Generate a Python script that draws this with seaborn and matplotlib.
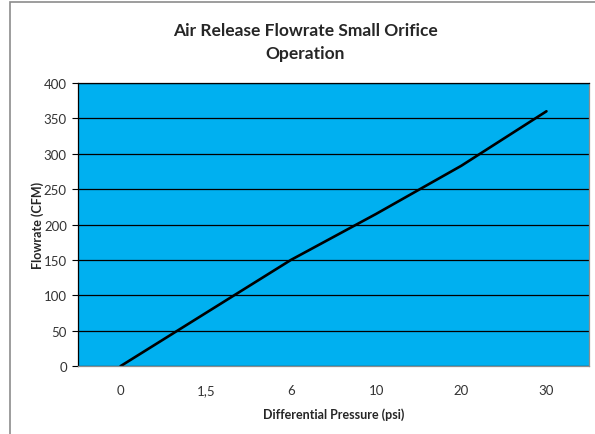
import matplotlib
matplotlib.use("Agg")
import matplotlib.pyplot as plt
import seaborn as sns
import pandas as pd
from matplotlib.patches import Rectangle

# data
pressure_labels = ["0", "1,5", "6", "10", "20", "30"]
flowrate = [0, 75, 150, 215, 283, 360]
y_ticks = [0, 50, 100, 150, 200, 250, 300, 350, 400]

df = pd.DataFrame({"pos": range(len(pressure_labels)), "Flowrate": flowrate})

sns.set_theme(style="white")
plt.rcParams["font.family"] = ["Lato", "DejaVu Sans"]

fig = plt.figure(figsize=(5.95, 4.35), dpi=100)
ax = fig.add_axes([0.131, 0.156, 0.859, 0.651])
ax.set_facecolor("#00B0F0")

sns.lineplot(data=df, x="pos", y="Flowrate", color="black", linewidth=1.9, ax=ax)

ax.set_xlim(-0.5, len(pressure_labels) - 0.5)
ax.set_ylim(0, 400)
ax.set_yticks(y_ticks)
ax.set_xticks(range(len(pressure_labels)))
ax.set_xticklabels(pressure_labels)
ax.yaxis.grid(True, color="black", linewidth=0.9)
ax.set_axisbelow(True)

ax.tick_params(axis="y", length=4, width=0.8, color="black", pad=4, labelsize=9.5, labelcolor="#333333", left=True)
ax.tick_params(axis="x", length=0, pad=13, labelsize=9.5, labelcolor="#333333")

for side in ["left", "top"]:
    ax.spines[side].set_color("black")
    ax.spines[side].set_linewidth(0.9)
for side in ["right", "bottom"]:
    ax.spines[side].set_color("#8c8c8c")
    ax.spines[side].set_linewidth(0.9)

ax.set_xlabel("Differential Pressure (psi)", fontsize=9, fontweight="bold", labelpad=8)
ax.set_ylabel("Flowrate (CFM)", fontsize=9, fontweight="bold")
ax.yaxis.set_label_coords(-0.067, 0.5)

fig.text(0.513, 0.902, "Air Release Flowrate Small Orifice\nOperation", ha="center", va="center",
         fontsize=12.5, fontweight="bold", linespacing=1.5)

# outer chart border like the Excel chart area
fig.patches.append(Rectangle((10 / 595, -0.05), 1.2, 1 - 3 / 435 + 0.05, transform=fig.transFigure,
                             fill=False, edgecolor="#8c8c8c", linewidth=1.2))

fig.savefig("out.png", dpi=100)
